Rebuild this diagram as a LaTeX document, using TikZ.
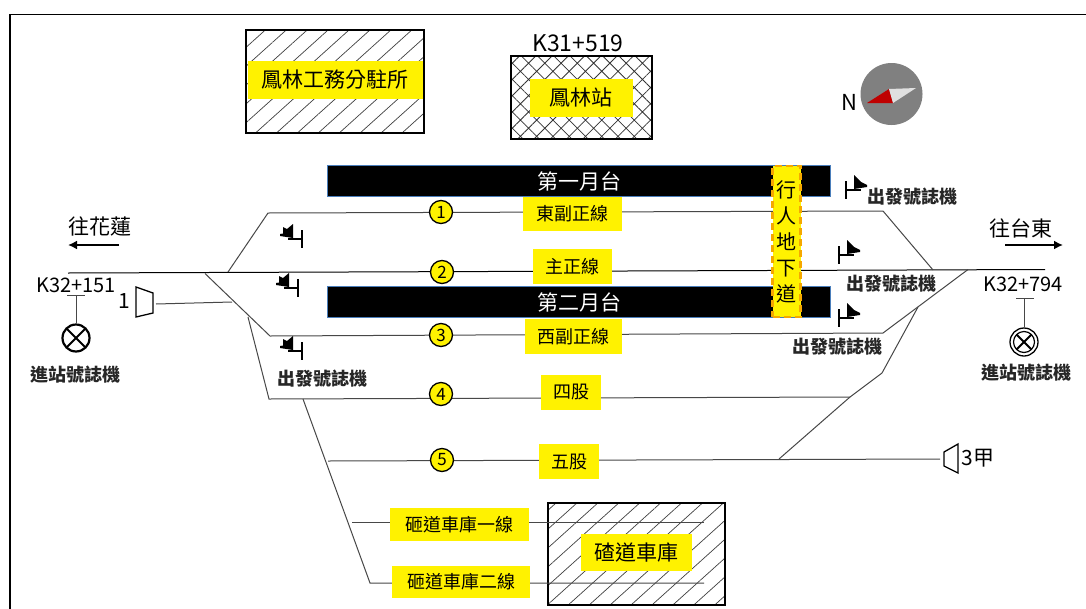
\documentclass[tikz,border=0pt]{standalone}
\usepackage{fontspec}
\usetikzlibrary{patterns.meta,arrows.meta}
\setmainfont{Noto Sans CJK TC}
\definecolor{platedge}{HTML}{4A7EBB}
\definecolor{dashor}{HTML}{F5A800}
\tikzset{
  x=1pt,y=-1pt,
  trk/.style={draw=black!72,line width=1pt},
  lbl/.style={fill=yellow,inner sep=0pt,font=\fontsize{18}{18}\selectfont},
  biglbl/.style={lbl,font=\fontsize{21}{21}\selectfont},
  num/.style={circle,draw=black,line width=1.3pt,fill=yellow,minimum size=23pt,inner sep=0pt,font=\fontsize{17}{17}\selectfont},
  plat/.style={draw=platedge,line width=1.2pt,fill=black,text=white,font=\fontsize{21}{21}\selectfont},
  txt/.style={inner sep=0pt,font=\fontsize{20}{20}\selectfont},
  sig/.style={inner sep=0pt,font=\bfseries\fontsize{18}{18}\selectfont,text=black!85},
  hatchbox/.style={draw=black,line width=1.8pt},
  dir/.style={line width=1.7pt,-{Latex[length=9pt,width=9pt]}},
  entry/.style={circle,draw=black,line width=2.2pt,minimum size=27pt,inner sep=0pt,path picture={
    \draw[line width=2pt] (path picture bounding box.north west)--(path picture bounding box.south east)
      (path picture bounding box.south west)--(path picture bounding box.north east);}},
}
\newcommand{\stopsig}[2]{%
  \begin{scope}[shift={(#1,#2)}]
    \draw[line width=1.6pt] (0,-9)--(0,8.5) (0,0)--(-14,0);
    \fill (-22,-5)--(-19,-5.5)--(-19,-12)--(-15,-10)--(-9,-15)--(-9,-1)--(-22,-3)--cycle;
  \end{scope}}
\newcommand{\depsig}[2]{%
  \begin{scope}[shift={(#1,#2)}]
    \draw[line width=1.6pt] (0,-9)--(0,9) (0,0)--(15,0);
    \fill (8,-15)--(15,-8)--(21,-5)--(21,-3)--(8,-1)--cycle;
  \end{scope}}
\begin{document}
\begin{tikzpicture}
\useasboundingbox (0,0) rectangle (1086,608);
\begin{scope}
\clip (0,0) rectangle (1086,608);
\fill[white] (0,0) rectangle (1086,608);
\draw[line width=1.8pt,black] (10,620)--(10,14.5)--(1092,14.5);

% hatched buildings
\draw[hatchbox,pattern={Lines[angle=42,distance=14pt,line width=.7pt]},pattern color=black!75] (246,30) rectangle (424,133);
\draw[hatchbox,pattern={Hatch[angle=45,distance=11.5pt,line width=.8pt]},pattern color=black!80] (511,56) rectangle (652,139);
\draw[hatchbox,pattern={Lines[angle=42,distance=14pt,line width=.7pt]},pattern color=black!75] (548,503) rectangle (725,605);

\node[biglbl,minimum width=175pt,minimum height=38pt] (l1) at (335,80) {鳳林工務分駐所};
\node[biglbl,minimum width=103pt,minimum height=38pt] (l2) at (581,98) {鳳林站};
\node[txt,font=\fontsize{23}{23}\selectfont] (km0) at (578,43) {K31+519};

% compass
\fill[black!50] (891.5,94) ellipse (31 and 31);
\node[txt,font=\fontsize{22}{22}\selectfont] (north) at (849,102) {N};
\fill[red!75!black] (867,103)--(889,89)--(893,103)--cycle;
\fill[black!12] (889,89)--(916,88)--(893,103)--cycle;

% platforms
\node[plat,minimum width=503pt,minimum height=31pt] (p1) at (579,181) {第一月台};
\node[plat,minimum width=503pt,minimum height=31pt] (p2) at (579,302) {第二月台};

% tracks
\coordinate (w0) at (68,273);
\coordinate (e0) at (1045,269.5);
\draw[trk,draw=black] (w0)--(e0);

\draw[trk] (228,272)--(268,213)--(883,211)--(933,270);
\draw[trk] (205,273.5)--(270,336)--(883,333)--(968,269.5);
\draw[trk] (248,317)--(269,399)--(850,397)--(882,373)--(918,307);
\draw[trk] (303,399)--(370,583)--(704,583);
\draw[trk] (328,461)--(940,459);
\draw[trk] (779,459)--(850,397);
\draw[trk] (352,522)--(704,522);
\draw[trk] (156,304)--(232,302);

% track labels
\node[num] (n1) at (441,212) {1};
\node[num] (n2) at (442,272) {2};
\node[num] (n3) at (441,335) {3};
\node[num] (n4) at (441,394) {4};
\node[num] (n5) at (442,460) {5};
\node[lbl,minimum width=99pt,minimum height=34pt] (t1) at (572.5,214) {東副正線};
\node[lbl,minimum width=79pt,minimum height=35pt] (t2) at (572.5,266.5) {主正線};
\node[lbl,minimum width=97pt,minimum height=35pt] (t3) at (573,336.5) {西副正線};
\node[lbl,minimum width=60pt,minimum height=35pt] (t4) at (571,392) {四股};
\node[lbl,minimum width=60pt,minimum height=35pt] (t5) at (569,461.5) {五股};
\node[lbl,minimum width=139pt,minimum height=33pt] (t6) at (459.5,524.5) {砸道車庫一線};
\node[lbl,minimum width=138pt,minimum height=32pt] (t7) at (461,582) {砸道車庫二線};
\node[biglbl,minimum width=111pt,minimum height=37pt] (t8) at (636.5,552.5) {碴道車庫};

% underpass
\node[lbl,draw=dashor,dash pattern=on 7pt off 4pt,line width=2.4pt,minimum width=28pt,minimum height=151pt,align=center,font=\fontsize{20}{26}\selectfont] (under) at (786.5,241.5) {行\\人\\地\\下\\道};

% direction
\node[txt,font=\fontsize{21}{21}\selectfont] (hua) at (100,226) {往花蓮};
\coordinate (ha) at (119,245);\coordinate (hb) at (68,245);
\draw[dir] (ha)--(hb);
\node[txt,font=\fontsize{21}{21}\selectfont] (tai) at (1021,228) {往台東};
\coordinate (ta) at (1005,245);\coordinate (tb) at (1063,245);
\draw[dir] (ta)--(tb);

% entry signals
\node[txt] (kw) at (76,285) {K32+151};
\node[entry] (sw) at (76,338) {};
\coordinate (swt) at (76,295);
\draw[line width=1pt,black!72] (swt)--(sw.north) (67,295)--(85,295);
\node[sig] (swl) at (75,375) {進站號誌機};
\node[txt] (ke) at (1023,284) {K32+794};
\node[circle,draw=black,line width=1.3pt,minimum size=28pt,inner sep=0pt] (se0) at (1024,342) {};
\node[entry,line width=1.2pt,minimum size=21pt] (se) at (1024,342) {};
\coordinate (set) at (1024,298);
\draw[line width=1pt,black!72] (set)--(se0.north) (1016,298)--(1034,298);
\node[sig] (sel) at (1026,373) {進站號誌機};

% shunt markers
\node[txt,font=\fontsize{21}{21}\selectfont] (m1) at (124,301) {1};
\draw[line width=1.3pt] (136,287)--(153,293)--(153,313)--(136,317)--cycle;
\node[txt,font=\fontsize{21}{21}\selectfont] (m3) at (978,458) {3甲};
\draw[line width=1.3pt] (958,444)--(944,452)--(944,466)--(958,473)--cycle;

% departure signals
\stopsig{302}{239}
\stopsig{298}{288}
\stopsig{302}{351}
\depsig{846}{190}
\depsig{839}{255}
\depsig{839}{318}
\node[sig] (d1) at (322,379) {出發號誌機};
\node[sig] (d2) at (912,197) {出發號誌機};
\node[sig] (d3) at (891,284) {出發號誌機};
\node[sig] (d4) at (837,347) {出發號誌機};
\end{scope}
\end{tikzpicture}
\end{document}
